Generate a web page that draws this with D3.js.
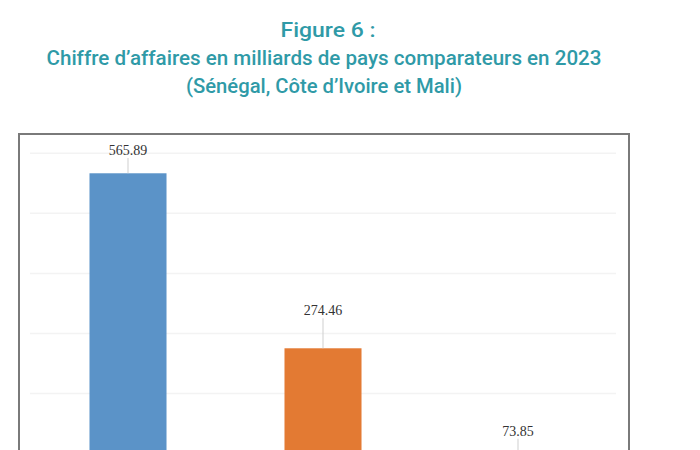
<!DOCTYPE html>
<html>
<head>
<meta charset="utf-8">
<script src="https://cdn.jsdelivr.net/npm/d3@7"></script>
<style>
  html, body { margin: 0; padding: 0; background: #ffffff; overflow: hidden; }
  svg { display: block; }
</style>
</head>
<body>
<script>
// ---- data ----
const categories = ["Sénégal", "Côte d'Ivoire", "Mali"];
const values = [565.89, 274.46, 73.85];
const barColors = ["#5b93c8", "#e37a33", "#a5a5a5"];
const yTicks = [0, 100, 200, 300, 400, 500, 600];
const titleLines = [
  "Figure 6 :",
  "Chiffre d’affaires en milliards de pays comparateurs en 2023",
  "(Sénégal, Côte d’Ivoire et Mali)"
];

const W = 700, H = 450;
const svg = d3.select("body").append("svg").attr("width", W).attr("height", H);

// ---- title ----
const titleFont = "Roboto, 'Liberation Sans', sans-serif";
const titleSpecs = [
  { x: 328, y: 37, len: 95 },
  { x: 324, y: 65, len: 555 },
  { x: 324, y: 93, len: 276 }
];
svg.selectAll("text.title").data(titleLines).join("text")
  .attr("class", "title")
  .attr("x", (d, i) => titleSpecs[i].x)
  .attr("y", (d, i) => titleSpecs[i].y)
  .attr("text-anchor", "middle")
  .attr("textLength", (d, i) => titleSpecs[i].len)
  .attr("lengthAdjust", "spacingAndGlyphs")
  .attr("font-family", titleFont)
  .attr("font-weight", 500)
  .attr("font-size", 20)
  .attr("fill", "#2f9aa7")
  .text(d => d);

// ---- chart frame ----
const frame = { left: 19, top: 134, right: 629, bottom: 600 };
svg.append("rect")
  .attr("x", frame.left).attr("y", frame.top)
  .attr("width", frame.right - frame.left).attr("height", frame.bottom - frame.top)
  .attr("fill", "none").attr("stroke", "#7a7a7a").attr("stroke-width", 2);

// ---- scales ----
const x = d3.scaleBand().domain(categories).range([30.5, 615.5])
  .paddingInner(0.605).paddingOuter(0.3025);
const y = d3.scaleLinear().domain([0, 600]).range([513.1, 152.8]);

// gridlines
const gridLeft = 30, gridRight = 616;
const grid = d3.axisLeft(y).tickValues(yTicks).tickSize(-(gridRight - gridLeft)).tickFormat("");
svg.append("g").attr("transform", `translate(${gridLeft},0)`).call(grid)
  .call(g => g.select(".domain").remove())
  .call(g => g.selectAll("line").attr("stroke", "#f3f3f3").attr("stroke-width", 1.5));

// bars
svg.selectAll("rect.bar").data(values).join("rect")
  .attr("class", "bar")
  .attr("x", (d, i) => x(categories[i]))
  .attr("width", x.bandwidth())
  .attr("y", d => y(d))
  .attr("height", d => y(0) - y(d))
  .attr("fill", (d, i) => barColors[i]);

// labels with leader lines
const labelY = d => Math.max(y(d) - 38, frame.top + 16);
svg.selectAll("line.leader").data(values).join("line")
  .attr("class", "leader")
  .attr("x1", (d, i) => x(categories[i]) + x.bandwidth() / 2)
  .attr("x2", (d, i) => x(categories[i]) + x.bandwidth() / 2)
  .attr("y1", d => labelY(d) + 8)
  .attr("y2", d => y(d))
  .attr("stroke", "#cfcfcf").attr("stroke-width", 1);

svg.selectAll("text.val").data(values).join("text")
  .attr("class", "val")
  .attr("x", (d, i) => x(categories[i]) + x.bandwidth() / 2)
  .attr("y", d => labelY(d))
  .attr("dy", "0.35em")
  .attr("text-anchor", "middle")
  .attr("font-family", "'Liberation Serif', 'DejaVu Serif', serif")
  .attr("font-size", 14)
  .attr("fill", "#333333")
  .text(d => d.toFixed(2));
</script>
</body>
</html>
